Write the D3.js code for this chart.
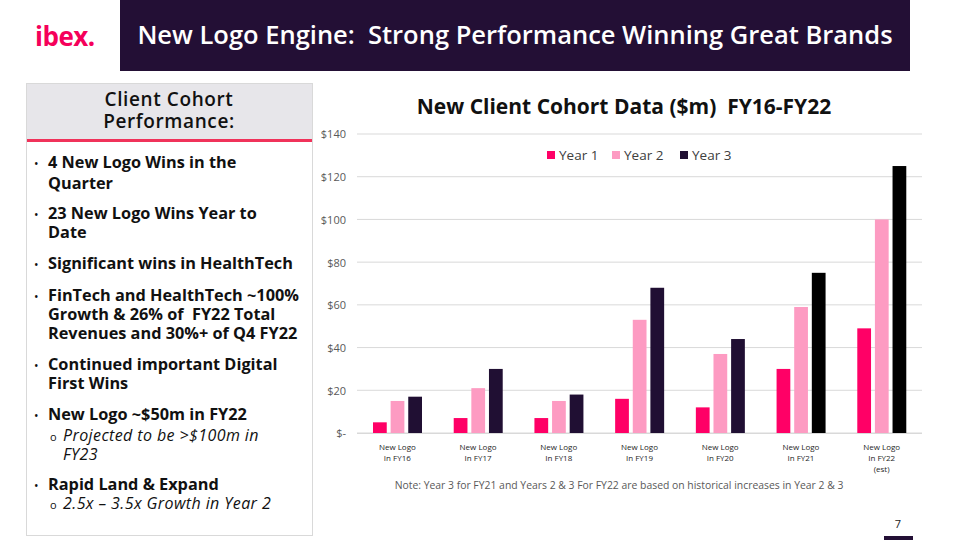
<!DOCTYPE html>
<html><head><meta charset="utf-8">
<script src="https://cdn.jsdelivr.net/npm/d3@7/dist/d3.min.js"></script>
<style>
html,body{margin:0;padding:0;background:#fff;}
svg{display:block;font-family:"Open Sans",Lato,sans-serif;}
svg text{white-space:pre;}
</style></head>
<body><svg id="c" width="960" height="540"></svg>
<script>
const categories = [["New Logo","In FY16"],["New Logo","In FY17"],["New Logo","In FY18"],["New Logo","In FY19"],["New Logo","In FY20"],["New Logo","In FY21"],["New Logo","In FY22","(est)"]];
const seriesNames = ["Year 1","Year 2","Year 3"];
const year1 = [5,7,7,16,12,30,49];
const year2 = [15,21,15,53,37,59,100];
const year3 = [17,30,18,68,44,75,125];
const year3Estimated = [false,false,false,false,false,true,true];
const yTicks = [0,20,40,60,80,100,120,140];
const bullets = [
  {lines:["4 New Logo Wins in the","Quarter"]},
  {lines:["23 New Logo Wins Year to","Date"]},
  {lines:["Significant wins in HealthTech"]},
  {lines:["FinTech and HealthTech ~100%","Growth & 26% of  FY22 Total","Revenues and 30%+ of Q4 FY22"]},
  {lines:["Continued important Digital","First Wins"]},
  {lines:["New Logo ~$50m in FY22"], sub:["Projected to be >$100m in","FY23"]},
  {lines:["Rapid Land & Expand"], sub:["2.5x \u2013 3.5x Growth in Year 2"]}
];

const svg = d3.select("#c");
const colors = {y1:"#ff0066", y2:"#fd9bc2", y3:"#200f33", est:"#000000", dark:"#230f35"};

// Header
svg.append("rect").attr("x",120).attr("y",0).attr("width",790).attr("height",71).attr("fill",colors.dark);
svg.append("text").attr("x",515).attr("y",44).attr("text-anchor","middle").attr("fill","#fff")
  .attr("font-size",25.5).attr("font-weight",600).text("New Logo Engine:  Strong Performance Winning Great Brands");
svg.append("text").attr("x",35).attr("y",46).attr("fill","#f5005a").attr("font-size",26).attr("font-weight",700)
  .attr("letter-spacing",-0.5).text("ibex.");

// Left panel
svg.append("rect").attr("x",26.5).attr("y",83.5).attr("width",286).attr("height",452).attr("fill","#fff").attr("stroke","#d9d9d9");
svg.append("rect").attr("x",27).attr("y",84).attr("width",285).attr("height",56).attr("fill","#e7e6ea");
svg.append("rect").attr("x",27).attr("y",139).attr("width",285).attr("height",3).attr("fill","#f0325a");
["Client Cohort","Performance:"].forEach((t,i)=>{
  svg.append("text").attr("x",169).attr("y",106+i*22).attr("text-anchor","middle").attr("fill","#111")
    .attr("font-size",19).attr("font-weight",600).attr("letter-spacing",0.6).text(t);
});
const bulletY = [[163,184],[214,233],[264],[296,315,334],[365,384],[415],[485]];
const subY = [null,null,null,null,null,[436,455],[504]];
bullets.forEach((b,i)=>{
  svg.append("text").attr("x",34).attr("y",bulletY[i][0]+5).attr("font-size",12).attr("fill","#111").text("\u2022");
  b.lines.forEach((l,j)=>{
    svg.append("text").attr("x",48).attr("y",bulletY[i][j]+5).attr("font-size",16.3).attr("font-weight",700).attr("fill","#111").text(l);
  });
  if(b.sub){
    svg.append("text").attr("x",50).attr("y",subY[i][0]+5).attr("font-size",11).attr("fill","#111").text("o");
    b.sub.forEach((l,j)=>{
      svg.append("text").attr("x",63).attr("y",subY[i][j]+5).attr("font-size",16).attr("font-style","italic")
        .attr("letter-spacing",0.4).attr("fill","#111").text(l);
    });
  }
});

// Chart
const x0 = d3.scaleBand().domain(d3.range(categories.length)).range([357,922]).paddingInner(0).paddingOuter(0);
const x1 = d3.scaleBand().domain(seriesNames).range([16,65]).paddingInner(0.22).paddingOuter(0);
const y = d3.scaleLinear().domain([0,140]).range([433,134]);

const grid = svg.append("g");
yTicks.forEach(t=>{
  grid.append("line").attr("x1",357).attr("x2",922).attr("y1",y(t)).attr("y2",y(t)).attr("stroke","#d9d9d9").attr("stroke-width",1);
});
const yAxis = d3.axisLeft(y).tickValues(yTicks).tickSize(0).tickPadding(0)
  .tickFormat(d=> d===0 ? "$-" : "$"+d);
const ya = svg.append("g").attr("transform","translate(346,0)").call(yAxis);
ya.select(".domain").remove();
ya.selectAll("text").attr("font-size",11).attr("fill","#595959").attr("font-family","'Open Sans',sans-serif").attr("dy","0.35em");

const seriesData = [year1, year2, year3];
const bars = svg.append("g");
categories.forEach((c,i)=>{
  seriesData.forEach((arr,s)=>{
    let fill = [colors.y1,colors.y2,colors.y3][s];
    if(s===2 && year3Estimated[i]) fill = colors.est;
    bars.append("rect").attr("x",x0(i)+x1(seriesNames[s])).attr("y",y(arr[i]))
      .attr("width",x1.bandwidth()).attr("height",y(0)-y(arr[i])).attr("fill",fill);
  });
});
svg.append("line").attr("x1",357).attr("x2",922).attr("y1",433.5).attr("y2",433.5).attr("stroke","#d9d9d9");

categories.forEach((c,i)=>{
  c.forEach((l,j)=>{
    svg.append("text").attr("x",x0(i)+x0.bandwidth()/2).attr("y",450+j*11).attr("text-anchor","middle")
      .attr("font-size",8).attr("fill","#262626").text(l);
  });
});

svg.append("text").attr("x",624).attr("y",114).attr("text-anchor","middle").attr("fill","#111")
  .attr("font-size",21).attr("font-weight",700).text("New Client Cohort Data ($m)  FY16-FY22");

// Legend
const legX = [547,612,680];
seriesNames.forEach((n,i)=>{
  svg.append("rect").attr("x",legX[i]).attr("y",151).attr("width",8).attr("height",8).attr("fill",[colors.y1,colors.y2,colors.y3][i]);
  svg.append("text").attr("x",legX[i]+12).attr("y",160).attr("font-size",13.5).attr("fill","#404040").text(n);
});

svg.append("text").attr("x",619).attr("y",489).attr("text-anchor","middle").attr("font-size",10.4).attr("fill","#595959")
  .text("Note: Year 3 for FY21 and Years 2 & 3 For FY22 are based on historical increases in Year 2 & 3");

svg.append("text").attr("x",898).attr("y",528).attr("text-anchor","middle").attr("font-size",11).attr("fill","#222").text("7");
svg.append("rect").attr("x",884).attr("y",536).attr("width",29).attr("height",4).attr("fill",colors.dark);
</script></body></html>
